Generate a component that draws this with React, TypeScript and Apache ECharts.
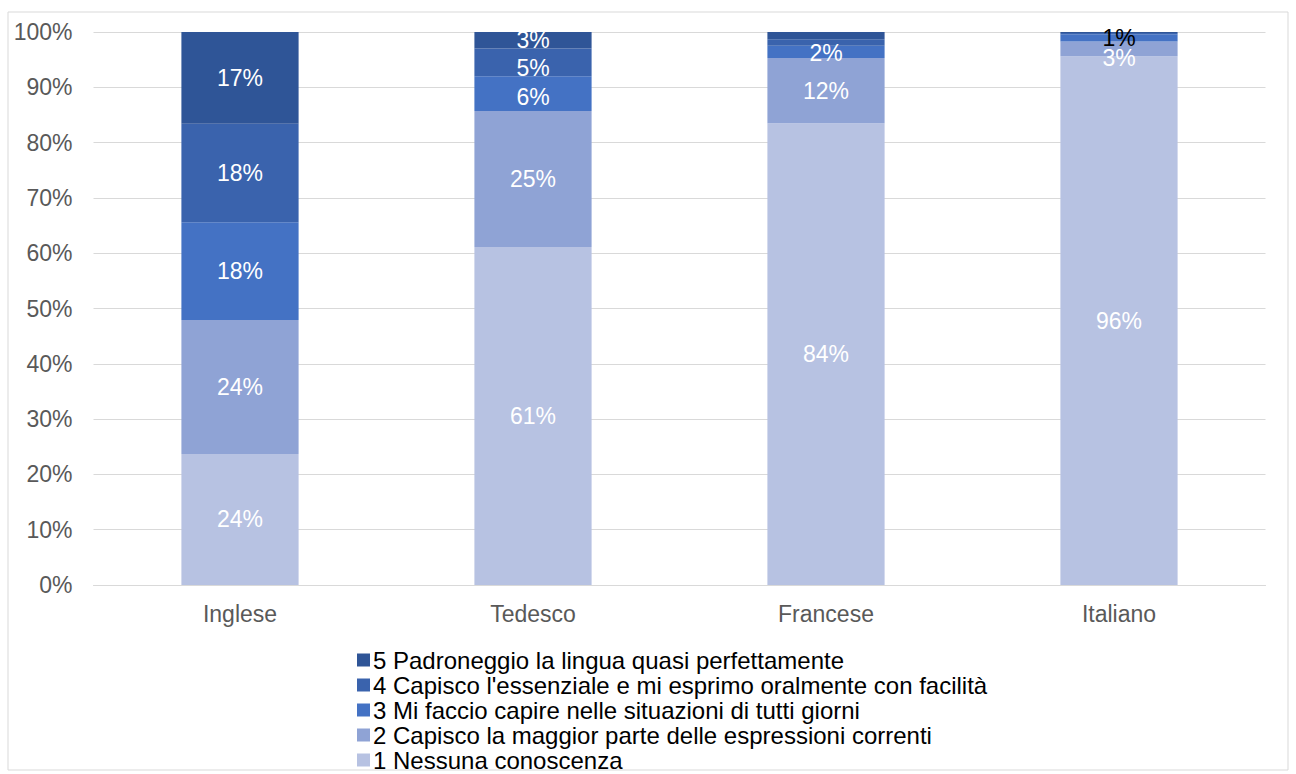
import React, { useEffect, useRef } from "react";
import * as echarts from "echarts";

const categories = ["Inglese", "Tedesco", "Francese", "Italiano"];
const seriesNames = [
  "1 Nessuna conoscenza",
  "2 Capisco la maggior parte delle espressioni correnti",
  "3 Mi faccio capire nelle situazioni di tutti giorni",
  "4 Capisco l'essenziale e mi esprimo oralmente con facilità",
  "5 Padroneggio la lingua quasi perfettamente",
];
const level1 = [23.7, 61.1, 83.5, 95.6];
const level2 = [24.2, 24.6, 11.8, 2.7];
const level3 = [17.7, 6.3, 2.2, 1.3];
const level4 = [17.8, 5.0, 1.2, 0.2];
const level5 = [16.6, 3.0, 1.3, 0.2];
const seriesValues = [level1, level2, level3, level4, level5];
// which labels are displayed (per series, per category)
const labelShown = [
  [true, true, true, true],
  [true, true, true, true],
  [true, true, true, true],
  [true, true, false, false],
  [true, true, false, false],
];
const colors = ["#B7C2E2", "#8FA3D5", "#4472C4", "#3A63AD", "#2F5597"];
const yTicks = [0, 10, 20, 30, 40, 50, 60, 70, 80, 90, 100];
const FONT = "Liberation Sans, Arial, sans-serif";

function labelOffset(si: number, ci: number): number[] {
  if (si === 1 && ci === 3) return [0, 9];
  if (si === 2 && ci === 2) return [0, 1];
  if (si === 3 && ci === 1) return [0, 6];
  if (si === 2 && ci === 1) return [0, 3];
  return [0, 0];
}

export default function App() {
  const ref = useRef<HTMLDivElement>(null);
  useEffect(() => {
    if (!ref.current) return;
    const chart = echarts.init(ref.current, undefined, { renderer: "svg" });
    const series = seriesValues.map((vals, si) => ({
      name: seriesNames[si],
      type: "bar",
      stack: "total",
      barWidth: "40%",
      itemStyle: { color: colors[si] },
      data: vals.map((v, ci) => ({
        value: v,
        label: {
          show: labelShown[si][ci],
          color: si === 2 && ci === 3 ? "#000000" : "#ffffff",
          offset: labelOffset(si, ci),
        },
      })),
      label: {
        show: true,
        position: "inside",
        fontSize: 23,
        fontFamily: FONT,
        formatter: (p: any) => Math.round(p.value) + "%",
      },
    }));
    chart.setOption({
      animation: false,
      graphic: [
        {
          type: "rect",
          shape: { x: 8, y: 12, width: 1280, height: 758 },
          style: { fill: "none", stroke: "#d9d9d9", lineWidth: 1 },
          silent: true,
          z: -1,
        },
      ],
      grid: { left: 93.5, right: 30.5, top: 32, bottom: 189 },
      xAxis: {
        type: "category",
        data: categories,
        axisLine: { lineStyle: { color: "#d9d9d9", width: 1 } },
        axisTick: { show: false },
        axisLabel: {
          fontSize: 23,
          color: "#595959",
          margin: 17,
          fontFamily: FONT,
        },
      },
      yAxis: {
        type: "value",
        min: yTicks[0],
        max: yTicks[yTicks.length - 1],
        interval: 10,
        axisLine: { show: false },
        axisTick: { show: false },
        splitLine: { lineStyle: { color: "#d9d9d9", width: 1 } },
        axisLabel: {
          fontSize: 23,
          color: "#595959",
          margin: 21,
          formatter: "{value}%",
          fontFamily: FONT,
        },
      },
      legend: {
        orient: "vertical",
        left: 352,
        top: 643,
        height: 130,
        itemWidth: 13,
        itemHeight: 13,
        itemGap: 1,
        icon: "rect",
        data: [...seriesNames].reverse(),
        textStyle: {
          fontSize: 24,
          color: "#000000",
          fontFamily: FONT,
          padding: [0, 0, 0, -2],
        },
      },
      series,
    });
    return () => chart.dispose();
  }, []);
  return (
    <div
      ref={ref}
      style={{ position: "absolute", left: 0, top: 0, width: 1296, height: 774 }}
    />
  );
}
